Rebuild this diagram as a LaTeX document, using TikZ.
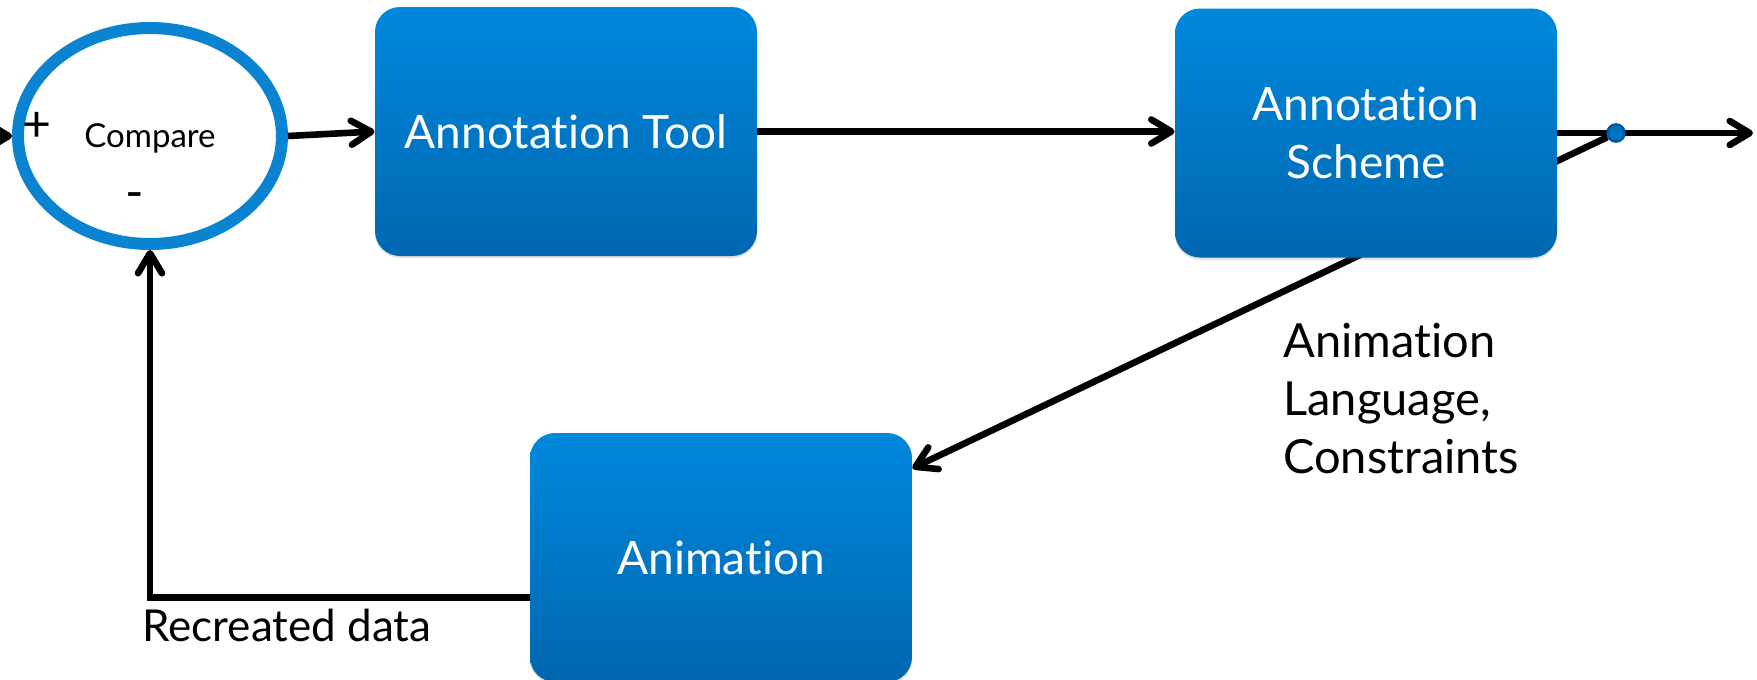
\documentclass[tikz,border=0pt]{standalone}
\usepackage{fontspec}
\setmainfont{Lato}[Ligatures=NoCommon]
\usetikzlibrary{arrows.meta,shapes.geometric,calc,shadows}
\pgfdeclarelayer{background}
\pgfsetlayers{background,main}
\definecolor{boxtop}{RGB}{0,136,220}
\definecolor{boxbot}{RGB}{0,103,176}
\definecolor{ringblue}{RGB}{10,132,208}
\definecolor{dotblue}{RGB}{0,114,196}
\definecolor{dotedge}{RGB}{0,88,158}
\begin{document}
\begin{tikzpicture}[x=0.5pt,y=-0.5pt,
  blockbox/.style={rectangle, rounded corners=12.5pt, minimum width=191pt,
    minimum height=124.5pt, top color=boxtop, bottom color=boxbot, draw=none,
    text=white, font=\fontsize{23}{29}\selectfont, align=center, inner sep=0pt,
    drop shadow={shadow xshift=0pt, shadow yshift=-1pt, opacity=0.25}},
  barb/.style={-{Straight Barb[length=10pt,width=12pt,line cap=round,line join=round]}},
  conn/.style={line width=3.3pt, barb},
  plainline/.style={line width=3.3pt},
  cmpshape/.style={ellipse, draw=ringblue, line width=6pt, fill=white,
    minimum width=132pt, minimum height=108pt, inner sep=0pt},
  junction/.style={circle, fill=dotblue, draw=dotedge, line width=1.2pt,
    minimum size=8.5pt, inner sep=0pt},
  labeltext/.style={font=\fontsize{23.5}{29}\selectfont, align=left, inner sep=0pt},
  signtext/.style={font=\fontsize{25}{27}\selectfont, inner sep=0pt},
]
\useasboundingbox (0,0) rectangle (1757,680);
\clip (0,0) rectangle (1757,680);

% nodes
\node[cmpshape] (cmp) at (150,136) {};
\node[font=\fontsize{16.5}{19}\selectfont] (cmplabel) at (150,138) {Compare};
\node[signtext] (plus) at (37,127) {+};
\node[signtext] (minus) at (135,201) {-};

\node[blockbox] (tool) at (566,131.5) {Annotation Tool};
\node[blockbox] (scheme) at (1366,133) {Annotation\\Scheme};
\node[blockbox] (anim) at (721,557.5) {Animation};

\coordinate (inbeg) at (-5,136);
\coordinate (out) at (1753,133);
\node[junction] (dot) at (1616,133) {};

% connectors
\begin{pgfonlayer}{background}
\draw[conn] (dot) -- (anim.25.6);
\end{pgfonlayer}
\draw[conn] (inbeg) -- (cmp.west);
\draw[conn] (cmp.east) -- (tool.west);
\draw[conn] (tool.east) -- (scheme.west |- tool.east);
\draw[plainline] (scheme.east |- dot) -- (dot.center);
\draw[conn] (dot.center) -- (out);
\node[junction] at (dot) {};
\coordinate (rdstart) at ($(anim.west)+(0,40)$);
\draw[line width=3.3pt, line join=miter, barb] (rdstart) -| (cmp.south);

% labels
\node[labeltext, anchor=north west] (lang) at (1283,323) {Animation\\Language,\\Constraints};
\node[font=\fontsize{22}{26}\selectfont, anchor=base west, inner sep=0pt] (recr) at (142,641) {Recreated data};
\end{tikzpicture}
\end{document}
